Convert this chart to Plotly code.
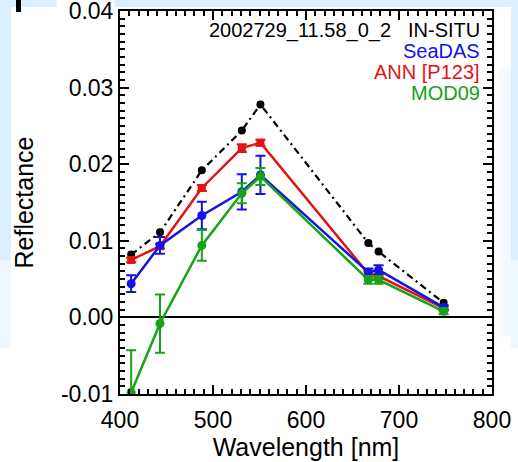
import plotly.graph_objects as go

# MODIS band centres [nm]
wavelength = [412, 443, 488, 531, 551, 667, 678, 748]

# Remote-sensing reflectance per band, with one-sigma uncertainty
insitu = [0.0082, 0.0111, 0.0192, 0.0244, 0.0278, 0.0097, 0.0086, 0.0019]
insitu_err = [0.0002, 0.0002, 0.0002, 0.0002, 0.0002, 0.0002, 0.0002, 0.0002]
seadas = [0.0044, 0.0094, 0.0133, 0.0164, 0.0186, 0.0059, 0.0062, 0.0013]
seadas_err = [0.0011, 0.0011, 0.0018, 0.0023, 0.0025, 0.0005, 0.0006, 0.0003]
ann = [0.0075, 0.0093, 0.0169, 0.0221, 0.0228, 0.0057, 0.0054, 0.0012]
ann_err = [0.0003, 0.0003, 0.0004, 0.0005, 0.0004, 0.0004, 0.0003, 0.0003]
mod09 = [-0.0098, -0.0008, 0.0094, 0.0162, 0.0184, 0.0049, 0.0049, 0.0008]
mod09_err = [0.0055, 0.0038, 0.0020, 0.0013, 0.0011, 0.0005, 0.0005, 0.0004]

station = "2002729_11.58_0_2"

BLACK = "black"
BLUE = "#1414e6"
RED = "#e01414"
GREEN = "#16a316"
BG_BLUE = "#dcefff"
FONT = "Liberation Sans, Arial, Helvetica, sans-serif"

fig = go.Figure()


def add_series(y, err, color, symbol, size, dash="solid", width=2.5, cap=5):
    fig.add_trace(go.Scatter(
        x=wavelength, y=y, mode="lines+markers",
        line=dict(color=color, width=width, dash=dash),
        marker=dict(color=color, symbol=symbol, size=size),
        error_y=dict(type="data", array=err, visible=True,
                     color=color, thickness=2, width=cap),
        showlegend=False,
    ))


add_series(insitu, insitu_err, BLACK, "circle", 8, dash="7px,4px,2px,4px", width=2.2, cap=3)
add_series(ann, ann_err, RED, "square", 8)
add_series(seadas, seadas_err, BLUE, "circle", 9)
add_series(mod09, mod09_err, GREEN, "circle", 9)

fig.update_layout(
    width=518, height=462,
    margin=dict(l=120, r=26, t=11, b=68),
    paper_bgcolor="white", plot_bgcolor="white",
    xaxis=dict(
        range=[400, 800], showline=True, linecolor=BLACK, linewidth=2,
        mirror="allticks", ticks="inside", ticklen=9, tickwidth=2, tickcolor=BLACK,
        minor=dict(ticks="inside", dtick=10, ticklen=5, tickwidth=1.5, tickcolor=BLACK),
        showgrid=False, zeroline=False,
        tickfont=dict(family=FONT, size=23, color=BLACK),
        title=dict(text="Wavelength [nm]", font=dict(family=FONT, size=25, color=BLACK)),
    ),
    yaxis=dict(
        range=[-0.01, 0.04], showline=True, linecolor=BLACK, linewidth=2,
        mirror="allticks", ticks="inside", ticklen=9, tickwidth=2, tickcolor=BLACK,
        minor=dict(ticks="inside", dtick=0.001, ticklen=5, tickwidth=1.5, tickcolor=BLACK),
        dtick=0.01, tickformat=".2f", labelalias={"\u22120.01": "-0.01"},
        showgrid=False, zeroline=True, zerolinecolor=BLACK, zerolinewidth=1.5,
        tickfont=dict(family=FONT, size=23, color=BLACK),
        title=dict(text="Reflectance", font=dict(family=FONT, size=25, color=BLACK)),
    ),
)

# legend text in the upper-right corner
labels = [
    (station, BLACK, 0.734, 0.950),
    ("IN-SITU", BLACK, 0.973, 0.950),
    ("SeaDAS", BLUE, 0.973, 0.8956),
    ("ANN [P123]", RED, 0.973, 0.840),
    ("MOD09", GREEN, 0.973, 0.786),
]
for text, color, x, y in labels:
    fig.add_annotation(
        text=text, x=x, y=y, xref="paper", yref="paper",
        xanchor="right", yanchor="middle", showarrow=False,
        font=dict(family=FONT, size=20, color=color),
    )

# pale slide background around the figure, fading out towards the bottom
shapes = [
    dict(x0=-0.33, x1=-0.17, y0=1.0104, y1=1.03, opacity=1.0),
    dict(x0=-0.015, x1=1.08, y0=1.0104, y1=1.03, opacity=1.0),
    dict(x0=-0.33, x1=-0.293, y0=0.35, y1=1.03, opacity=1.0),
    dict(x0=-0.33, x1=-0.293, y0=0.12, y1=0.35, opacity=0.5),
    dict(x0=1.051, x1=1.08, y0=0.35, y1=1.012, opacity=1.0),
    dict(x0=1.051, x1=1.08, y0=0.12, y1=0.35, opacity=0.5),
    dict(x0=1.02, x1=1.051, y0=0.15, y1=0.85, opacity=0.35),
]
for s in shapes:
    fig.add_shape(type="rect", xref="paper", yref="paper", layer="above",
                  fillcolor=BG_BLUE, line=dict(width=0), **s)
fig.add_shape(type="rect", xref="paper", yref="paper", layer="above",
              x0=-0.2796, x1=-0.2661, y0=0.9974, y1=1.03,
              fillcolor=BLACK, line=dict(width=0))

# fixed margins: keep the frame where the margins put it
fig.update_xaxes(automargin=False, ticklabelstandoff=4)
fig.update_yaxes(automargin=False, ticklabeloverflow="allow", title_standoff=20)
fig.update_xaxes(title_standoff=6)

fig.write_html("out.html")
